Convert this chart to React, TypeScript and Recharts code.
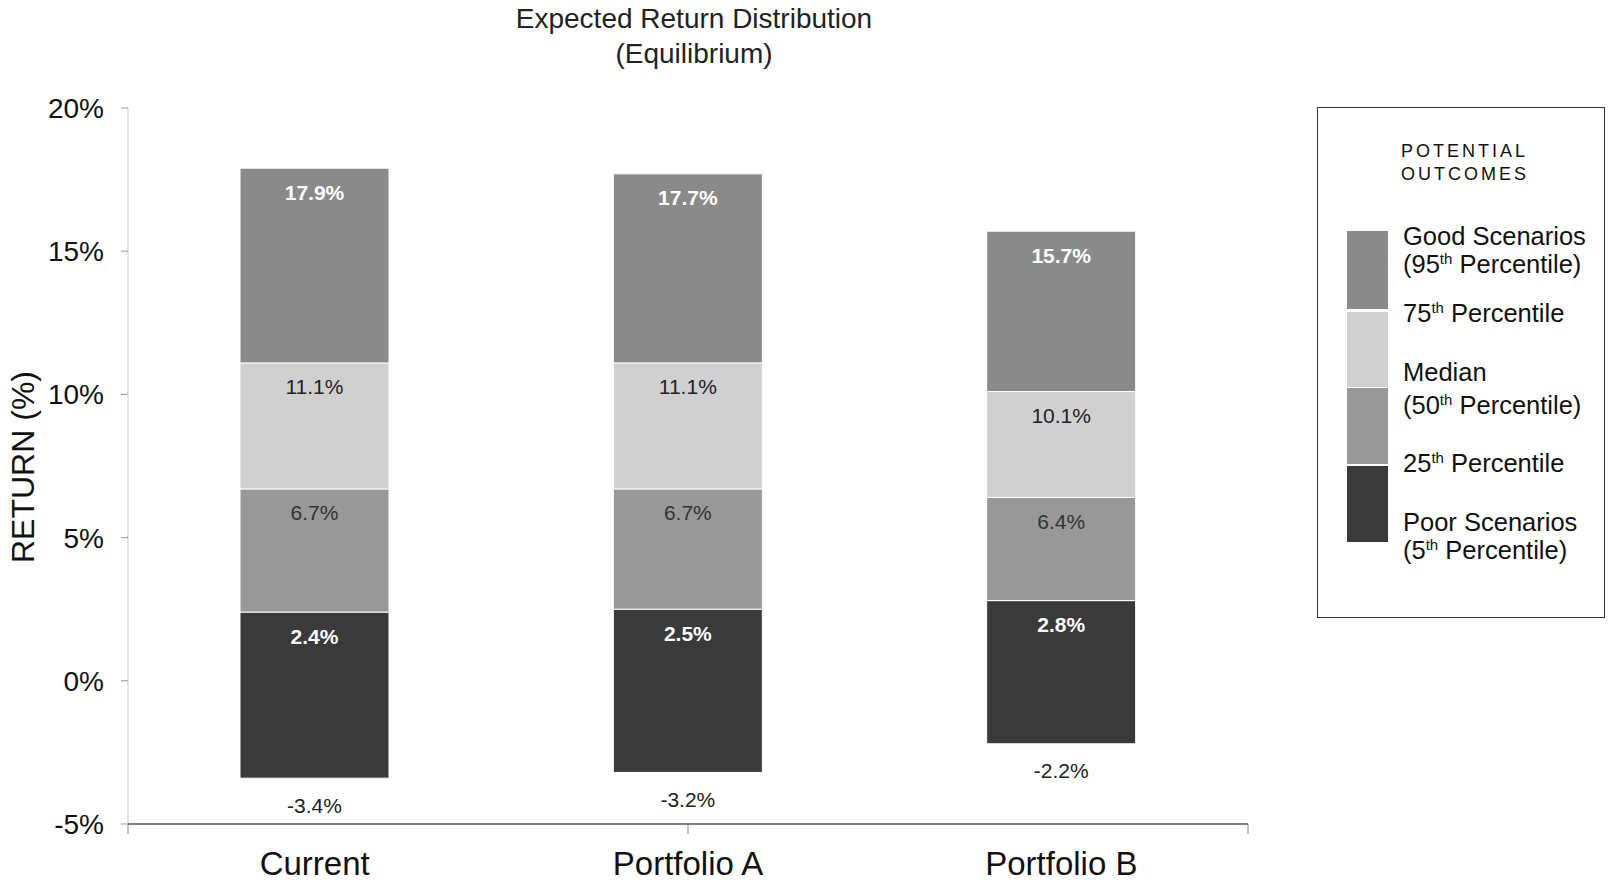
import { BarChart, Bar, XAxis, YAxis, LabelList, Legend, Label, ReferenceLine } from 'recharts';

const categories = ['Current', 'Portfolio A', 'Portfolio B'];
const p95 = [17.9, 17.7, 15.7];
const p75 = [11.1, 11.1, 10.1];
const p50 = [6.7, 6.7, 6.4];
const p25 = [2.4, 2.5, 2.8];
const p5 = [-3.4, -3.2, -2.2];
const yTicks = [-5, 0, 5, 10, 15, 20];
// category boundaries, where the x axis has its small tick marks
const boundTicks = [0, 1, 2, 3];

const FONT = '"Liberation Sans", Arial, sans-serif';

const COLORS = {
  poor: '#3a3a3a', // 5th - 25th
  low: '#989898', // 25th - median
  high: '#d0d0d0', // median - 75th
  good: '#8a8a8a', // 75th - 95th
};

const round = (v: number) => Math.round(v * 100) / 100;

const data = categories.map((name, i) => ({
  name,
  base: p5[i],
  poor: round(p25[i] - p5[i]),
  low: round(p50[i] - p25[i]),
  high: round(p75[i] - p50[i]),
  good: round(p95[i] - p75[i]),
  p95: p95[i],
  p75: p75[i],
  p50: p50[i],
  p25: p25[i],
  p5: p5[i],
}));

const topLabel = (color: string, bold: boolean) => (props: any) => {
  const x = Number(props.x);
  const y = Number(props.y);
  const w = Number(props.width);
  const h = Number(props.height);
  const top = Math.min(y, y + h);
  return (
    <text
      x={x + w / 2}
      y={top + 24}
      textAnchor="middle"
      dominantBaseline="central"
      fill={color}
      fontSize={21}
      fontFamily={FONT}
      fontWeight={bold ? 'bold' : 'normal'}
    >
      {Number(props.value).toFixed(1)}%
    </text>
  );
};

const bottomLabel = (props: any) => {
  const x = Number(props.x);
  const y = Number(props.y);
  const w = Number(props.width);
  const h = Number(props.height);
  const bottom = Math.max(y, y + h);
  return (
    <text
      x={x + w / 2}
      y={bottom + 27}
      textAnchor="middle"
      dominantBaseline="central"
      fill="#222"
      fontSize={21}
      fontFamily={FONT}
    >
      {Number(props.value).toFixed(1)}%
    </text>
  );
};

const legendLines = [
  { y: 235, text: 'Good Scenarios' },
  { y: 263, text: '(95', sup: 'th', rest: ' Percentile)' },
  { y: 312, text: '75', sup: 'th', rest: ' Percentile' },
  { y: 371, text: 'Median' },
  { y: 404, text: '(50', sup: 'th', rest: ' Percentile)' },
  { y: 462, text: '25', sup: 'th', rest: ' Percentile' },
  { y: 521, text: 'Poor Scenarios' },
  { y: 549, text: '(5', sup: 'th', rest: ' Percentile)' },
];

const swatches = [
  { top: 230, bottom: 308, color: COLORS.good },
  { top: 311, bottom: 386, color: COLORS.high },
  { top: 387, bottom: 463, color: COLORS.low },
  { top: 465, bottom: 541, color: COLORS.poor },
];

const BOX_TOP = 107;

function OutcomesLegend() {
  return (
    <div style={{ position: 'relative', width: 288, height: 511, border: '1px solid #333', boxSizing: 'border-box', fontFamily: FONT, color: '#111', background: '#fff' }}>
      <div style={{ position: 'absolute', left: 83, top: 150 - BOX_TOP - 11, fontSize: 18, letterSpacing: 3, lineHeight: '22px' }}>POTENTIAL</div>
      <div style={{ position: 'absolute', left: 83, top: 173 - BOX_TOP - 11, fontSize: 18, letterSpacing: 3, lineHeight: '22px' }}>OUTCOMES</div>
      {swatches.map((s, i) => (
        <div key={i} style={{ position: 'absolute', left: 29, width: 41, top: s.top - BOX_TOP, height: s.bottom - s.top, background: s.color }} />
      ))}
      {legendLines.map((l, i) => (
        <div key={i} style={{ position: 'absolute', left: 85, top: l.y - BOX_TOP - 15, fontSize: 25.5, lineHeight: '30px', whiteSpace: 'nowrap' }}>
          {l.text}
          {l.sup && <sup style={{ fontSize: 15, lineHeight: 0, verticalAlign: 'super' }}>{l.sup}</sup>}
          {l.rest}
        </div>
      ))}
    </div>
  );
}

export default function App() {
  return (
    <div style={{ position: 'absolute', left: 0, top: 0, width: 1610, height: 883, background: '#fff' }}>
      <div style={{ position: 'absolute', left: 394, width: 600, top: 1, textAlign: 'center', fontFamily: FONT, fontSize: 28, lineHeight: '35px', color: '#222' }}>
        <div>Expected Return Distribution</div>
        <div>(Equilibrium)</div>
      </div>
      <BarChart
        width={1610}
        height={883}
        data={data}
        margin={{ top: 108, right: 362, bottom: 9, left: 48 }}
        barSize={149}
      >
        <XAxis xAxisId="bounds" type="number" domain={[0, 3]} allowDataOverflow height={0} hide />
        <XAxis
          xAxisId="cat"
          dataKey="name"
          axisLine={{ stroke: '#555', strokeWidth: 1.5 }}
          tickLine={false}
          tickSize={0}
          tickMargin={28}
          height={50}
          tick={{ fontSize: 33, fontFamily: FONT, fill: '#111' }}
        />
        <YAxis
          domain={[-5, 20]}
          ticks={yTicks}
          width={80}
          allowDataOverflow
          tickFormatter={(v: number) => `${v}%`}
          axisLine={{ stroke: '#999', strokeDasharray: '1 1' }}
          tickLine={{ stroke: '#999' }}
          tickSize={7}
          tickMargin={17}
          tick={{ fontSize: 28, fontFamily: FONT, fill: '#111' }}
        >
          <Label
            content={() => (
              <text
                x={23}
                y={467}
                transform="rotate(-90 23 467)"
                textAnchor="middle"
                dominantBaseline="central"
                fontSize={32}
                fontFamily={FONT}
                fill="#111"
              >
                RETURN (%)
              </text>
            )}
          />
        </YAxis>
        {boundTicks.map((b) => (
          <ReferenceLine
            key={b}
            xAxisId="bounds"
            segment={[{ x: b, y: -5 }, { x: b, y: -5.35 }]}
            ifOverflow="visible"
            stroke="#888"
            strokeWidth={1}
          />
        ))}
        <Legend
          layout="vertical"
          align="center"
          verticalAlign="middle"
          wrapperStyle={{ left: 1317, top: BOX_TOP, width: 288, height: 511 }}
          content={() => <OutcomesLegend />}
        />
        <Bar xAxisId="cat" dataKey="base" stackId="s" fill="transparent" legendType="none" isAnimationActive={false} />
        <Bar xAxisId="cat" dataKey="poor" stackId="s" fill={COLORS.poor} stroke="#fff" strokeWidth={1} isAnimationActive={false}>
          <LabelList dataKey="p25" content={topLabel('#fff', true)} />
          <LabelList dataKey="p5" content={bottomLabel} />
        </Bar>
        <Bar xAxisId="cat" dataKey="low" stackId="s" fill={COLORS.low} stroke="#fff" strokeWidth={1} isAnimationActive={false}>
          <LabelList dataKey="p50" content={topLabel('#333', false)} />
        </Bar>
        <Bar xAxisId="cat" dataKey="high" stackId="s" fill={COLORS.high} stroke="#fff" strokeWidth={1} isAnimationActive={false}>
          <LabelList dataKey="p75" content={topLabel('#222', false)} />
        </Bar>
        <Bar xAxisId="cat" dataKey="good" stackId="s" fill={COLORS.good} stroke="#fff" strokeWidth={1} isAnimationActive={false}>
          <LabelList dataKey="p95" content={topLabel('#fff', true)} />
        </Bar>
      </BarChart>
    </div>
  );
}
